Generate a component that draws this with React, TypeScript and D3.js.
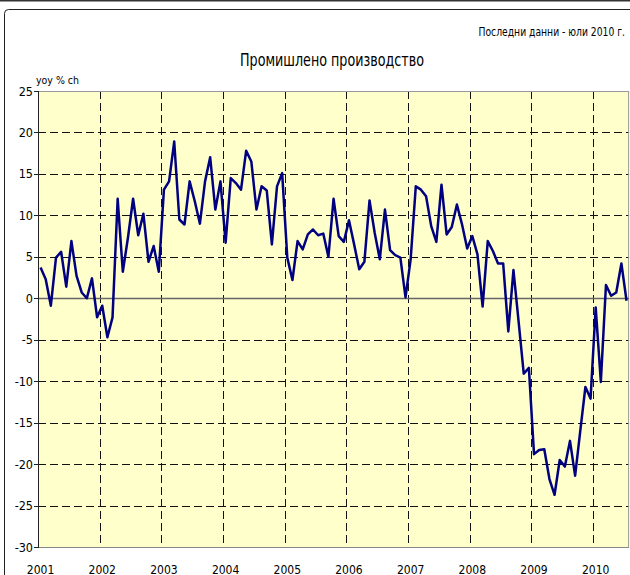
import React from 'react';
import * as d3 from 'd3';

const years = ['2001', '2002', '2003', '2004', '2005', '2006', '2007', '2008', '2009', '2010'];
const v2001 = [3.7, 2.3, -0.9, 4.9, 5.6, 1.4, 6.9, 2.7, 0.7, 0.0, 2.4, -2.3];
const v2002 = [-0.9, -4.7, -2.3, 12.0, 3.2, 7.3, 12.0, 7.6, 10.2, 4.4, 6.3, 3.2];
const v2003 = [13.1, 14.1, 18.9, 9.5, 8.9, 14.1, 11.7, 9.0, 14.1, 17.0, 10.7, 14.1];
const v2004 = [6.7, 14.5, 13.9, 13.1, 17.8, 16.5, 10.7, 13.5, 13.0, 6.5, 13.5, 15.1];
const v2005 = [4.9, 2.2, 6.9, 5.9, 7.7, 8.3, 7.6, 7.8, 5.0, 12.0, 7.5, 6.8];
const v2006 = [9.4, 6.5, 3.5, 4.4, 11.8, 7.9, 4.7, 10.7, 5.8, 5.2, 4.9, 0.1];
const v2007 = [4.7, 13.5, 13.1, 12.3, 8.7, 6.8, 13.7, 7.7, 8.6, 11.3, 8.9, 6.0];
const v2008 = [7.5, 5.3, -1.0, 6.9, 5.7, 4.2, 4.2, -4.0, 3.4, -2.8, -9.1, -8.4];
const v2009 = [-18.8, -18.3, -18.2, -21.8, -23.7, -19.5, -20.3, -17.2, -21.4, -16.0, -10.7, -12.1];
const v2010 = [-1.1, -10.1, 1.6, 0.3, 0.7, 4.2, -0.3];
const yTicks = [25, 20, 15, 10, 5, 0, -5, -10, -15, -20, -25, -30];

const title = 'Промишлено производство';
const subtitle = 'Последни данни - юли 2010 г.';
const unitLabel = 'yoy % ch';

const values = [...v2001, ...v2002, ...v2003, ...v2004, ...v2005, ...v2006, ...v2007, ...v2008, ...v2009, ...v2010];

const W = 630;
const H = 575;
const L = 38;
const R = 629.1;
const T = 91;
const B = 547;
const FONT = "'Liberation Sans Narrow', 'DejaVu Sans Condensed', 'Arial Narrow', sans-serif";

export default function App() {
  const idx = values.map((_, i) => i);
  const x = d3.scaleBand<number>().domain(idx).range([L, R]).padding(0);
  const bw = x.bandwidth();
  const cx = (i: number) => (x(i) as number) + bw / 2;
  const y = d3.scaleLinear().domain([-30, 25]).range([B, T]);
  const line = d3.line<number>().x((_, i) => cx(i)).y((d) => y(d));

  const yearBoundaries = years.slice(1).map((_, k) => x((k + 1) * 12) as number);

  return (
    <svg width={W} height={H} style={{ position: 'absolute', left: 0, top: 0, background: '#fff' }}>
      <line x1={0} x2={W} y1={0.75} y2={0.75} stroke="#333" strokeWidth={1.5} />
      <rect x={4.5} y={9.5} width={700} height={700} rx={4} fill="#fff" stroke="#222" strokeWidth={1} />
      <rect x={L} y={T} width={R - L} height={B - T} fill="#FFFFCC" />
      {yTicks.filter((t) => t !== 0 && t !== 25 && t !== -30).map((t) => (
        <line key={'h' + t} x1={L} x2={R} y1={Math.round(y(t)) + 0.5} y2={Math.round(y(t)) + 0.5} stroke="#111" strokeWidth={1} strokeDasharray="8,4" />
      ))}
      {yearBoundaries.map((bx, k) => (
        <line key={'v' + k} x1={Math.round(bx) + 0.5} x2={Math.round(bx) + 0.5} y1={T} y2={B} stroke="#111" strokeWidth={1} strokeDasharray="8,4" />
      ))}
      <line x1={L} x2={R} y1={T + 0.5} y2={T + 0.5} stroke="#999" strokeWidth={1} />
      <line x1={R - 0.5} x2={R - 0.5} y1={T} y2={B} stroke="#999" strokeWidth={1} />
      <line x1={L} x2={R} y1={B + 0.5} y2={B + 0.5} stroke="#888" strokeWidth={1} />
      <line x1={L} x2={R} y1={Math.round(y(0)) + 0.5} y2={Math.round(y(0)) + 0.5} stroke="#666" strokeWidth={1.5} />
      <line x1={L + 0.5} x2={L + 0.5} y1={T} y2={B + 1} stroke="#222" strokeWidth={1} />
      {yTicks.map((t) => (
        <g key={'t' + t}>
          <line x1={L - 4} x2={L} y1={Math.round(y(t)) + 0.5} y2={Math.round(y(t)) + 0.5} stroke="#222" strokeWidth={1} />
          <text x={33} y={y(t) + 4.5} textAnchor="end" fontFamily={FONT} fontSize={12.5} fill="#000">{t}</text>
        </g>
      ))}
      <path d={line(values) || ''} fill="none" stroke="#000080" strokeWidth={2.5} strokeLinejoin="round" />
      {years.map((yr, k) => (
        <text key={yr} x={cx(k * 12)} y={573.5} textAnchor="middle" fontFamily={FONT} fontSize={12} fill="#000">{yr}</text>
      ))}
      <text x={36} y={84} fontFamily={FONT} fontSize={11} fill="#000" textLength={43} lengthAdjust="spacingAndGlyphs">{unitLabel}</text>
      <text x={332} y={66} textAnchor="middle" fontFamily={FONT} fontSize={17} fill="#000" textLength={184} lengthAdjust="spacingAndGlyphs">{title}</text>
      <g transform="translate(625,36) scale(0.82,1)">
        <text x={0} y={0} textAnchor="end" fontFamily={FONT} fontSize={12.5} fill="#000">{subtitle}</text>
      </g>
    </svg>
  );
}
